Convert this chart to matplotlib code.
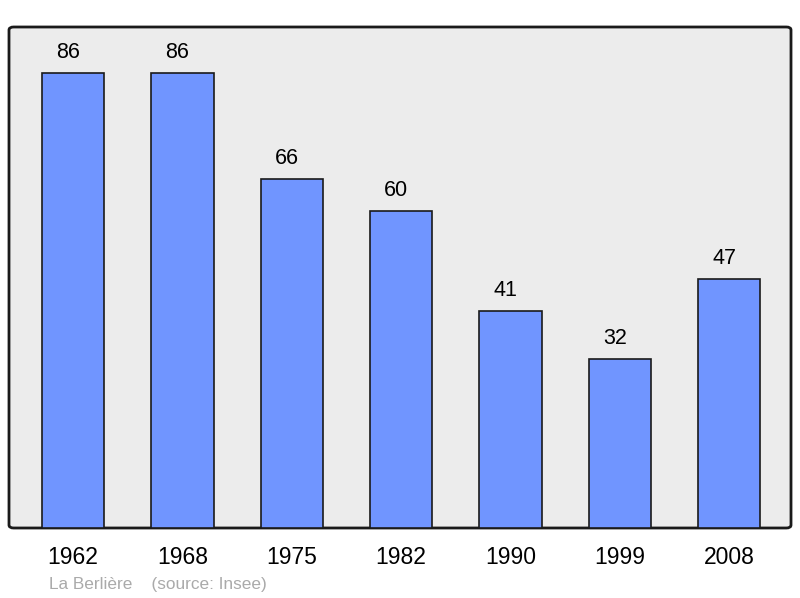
import matplotlib.pyplot as plt
from matplotlib.patches import FancyBboxPatch

# === DATA ===
years = ["1962", "1968", "1975", "1982", "1990", "1999", "2008"]
population = [86, 86, 66, 60, 41, 32, 47]

plt.rcParams['font.family'] = ['Liberation Sans', 'DejaVu Sans']

fig = plt.figure(figsize=(8, 5.98), dpi=100)
ax = fig.add_axes([9 / 800, 70 / 598, 782 / 800, 501 / 598])
ax.set_facecolor('none')

# background with rounded frame
bg = FancyBboxPatch((0, 0), 1, 1, boxstyle="round,pad=0,rounding_size=0.006",
                    transform=ax.transAxes, facecolor='#ececec',
                    edgecolor='#1a1a1a', linewidth=2, zorder=0, clip_on=False)
ax.add_patch(bg)

x = range(len(years))
ax.bar(x, population, width=0.57, color='#7095ff',
       edgecolor='#1a1a1a', linewidth=1.2, zorder=2)

# value labels sit a little left of the bar centre, as in the original
for xi, v in zip(x, population):
    ax.text(xi - 0.045, v + 1.9, str(v), ha='center', va='bottom', fontsize=15.5)

ax.set_xlim(-0.585, 6.565)
ax.set_ylim(0, 94.7)
ax.set_xticks(list(x))
ax.set_xticklabels(years, fontsize=16.5)
ax.tick_params(axis='x', length=0, pad=13)
ax.set_yticks([])
for s in ax.spines.values():
    s.set_visible(False)

fig.text(49 / 800, 1 - 584 / 598, "La Berlière    (source: Insee)",
         fontsize=12.4, color='#aaaaaa', va='center', ha='left')

plt.savefig("out.png", dpi=100)
